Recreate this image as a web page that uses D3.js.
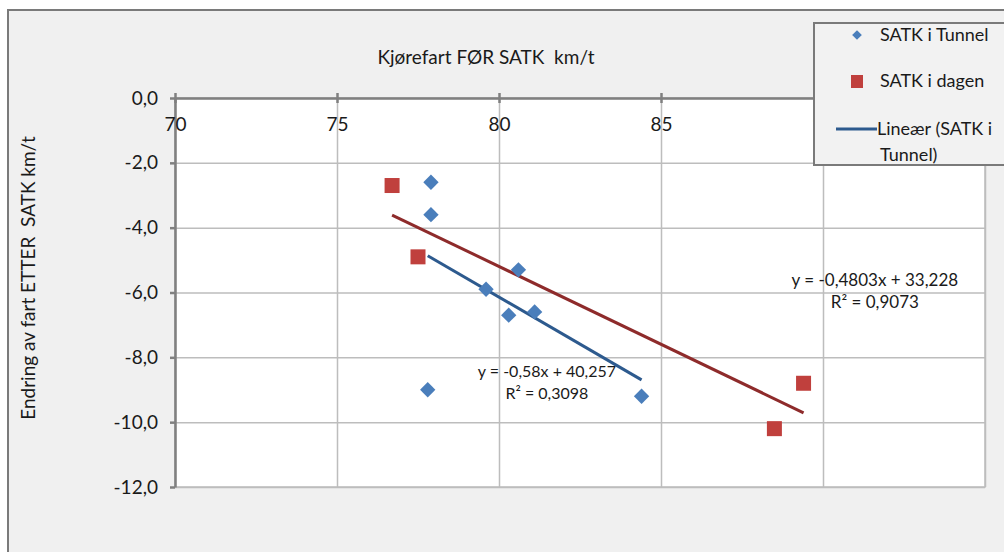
<!DOCTYPE html>
<meta charset="utf-8">
<style type="text/css">
body { margin: 0; background: #fff; }
text { font-family: Lato, "Noto Sans", sans-serif; fill: #1a1a1a; white-space: pre; }
.grid line { stroke: #bdbdbd; stroke-width: 1.5; }
.grid path { display: none; }
.axis path, .axis line { stroke: #808080; stroke-width: 2.5; }
.axis text { font-size: 19px; }
.trend { fill: none; stroke-width: 3; }
</style>
<body>
<div id="chart"></div>
</body>
<script src="https://d3js.org/d3.v7.min.js"></script>
<script>

// data
var tunnelX = [77.9, 77.9, 80.6, 79.6, 80.3, 81.1, 77.8, 84.4];
var tunnelY = [-2.6, -3.6, -5.3, -5.9, -6.7, -6.6, -9.0, -9.2];
var dagenX = [76.7, 77.5, 88.5, 89.4];
var dagenY = [-2.7, -4.9, -10.2, -8.8];

// trend lines: slope, intercept as printed on the chart
var trendSlope = [-0.58, -0.4803];
var trendIntercept = [40.257, 33.228];
var trendText = [["y = -0,58x + 40,257", "R² = 0,3098"], ["y = -0,4803x + 33,228", "R² = 0,9073"]];

var xTicks = [70, 75, 80, 85, 90, 95];
var yTicks = [0, -2, -4, -6, -8, -10, -12];
var legendLabels = ["SATK i Tunnel", "SATK i dagen", "Lineær (SATK i", "Tunnel)"];

var W = 1004, H = 552;
var margin = {top: 98, left: 175}
  , width = 810
  , height = 389;

var svg = d3.select("#chart").append("svg")
    .attr("width", W)
    .attr("height", H);

// chart area
svg.append("rect")
    .attr("x", 8).attr("y", 10)
    .attr("width", W + 20).attr("height", H + 20)
    .attr("fill", "#f0f0f0")
    .attr("stroke", "#7a7a7a")
    .attr("stroke-width", 2);

var g = svg.append("g")
    .attr("transform", "translate(" + margin.left + "," + margin.top + ")");

var xScale = d3.scaleLinear().domain([70, 95]).range([0, width]);
var yScale = d3.scaleLinear().domain([0, -12]).range([0, height]);

g.append("rect")
    .attr("width", width).attr("height", height)
    .attr("fill", "#fff");

// gridlines
g.append("g")
    .attr("class", "grid")
    .call(d3.axisLeft(yScale).tickValues(yTicks).tickSize(-width).tickFormat(""));
g.append("g")
    .attr("class", "grid")
    .attr("transform", "translate(0," + height + ")")
    .call(d3.axisBottom(xScale).tickValues(xTicks).tickSize(height).tickFormat(""))
    .selectAll("line").attr("y1", 0).attr("y2", -height);
g.append("rect")
    .attr("width", width).attr("height", height)
    .attr("fill", "none")
    .attr("stroke", "#bdbdbd")
    .attr("stroke-width", 1.5);

var fmt = function(v) { return v.toFixed(1).replace(".", ","); };

// y axis
g.append("g")
    .attr("class", "axis")
    .call(d3.axisLeft(yScale).tickValues(yTicks).tickSize(5).tickSizeOuter(0).tickPadding(12).tickFormat(fmt));

// x axis sits at y = 0, labels hang below it (95 is hidden under the legend)
var xAxis = g.append("g")
    .attr("class", "axis")
    .call(d3.axisBottom(xScale).tickValues(xTicks).tickSize(5).tickSizeOuter(0).tickPadding(15)
        .tickFormat(function(d) { return d === 95 ? "" : d; }));
xAxis.selectAll(".tick line").attr("y1", -5).attr("y2", 5);

// trend lines
var trendColor = ["#2d5a8e", "#8e2b2b"];
var sets = [[tunnelX, tunnelY], [dagenX, dagenY]];
var line = d3.line()
    .x(function(d) { return xScale(d[0]); })
    .y(function(d) { return yScale(d[1]); });

sets.forEach(function(s, i) {
    var ext = d3.extent(s[0]);
    var pts = ext.map(function(x) { return [x, trendSlope[i] * x + trendIntercept[i]]; });
    g.append("path")
        .datum(pts)
        .attr("class", "trend")
        .attr("stroke", trendColor[i])
        .attr("d", line);
});

// markers
var diamond = d3.symbol().type(d3.symbolDiamond2).size(150);
g.selectAll(".dia")
    .data(tunnelX)
  .enter().append("path")
    .attr("class", "dia")
    .attr("d", diamond)
    .attr("fill", "#4a7ebb")
    .attr("transform", function(d, i) {
        return "translate(" + xScale(d) + "," + yScale(tunnelY[i]) + ")";
    });

g.selectAll(".sq")
    .data(dagenX)
  .enter().append("rect")
    .attr("class", "sq")
    .attr("x", function(d) { return xScale(d) - 7.5; })
    .attr("y", function(d, i) { return yScale(dagenY[i]) - 7.5; })
    .attr("width", 15).attr("height", 15)
    .attr("fill", "#c0403d");

// equation labels
var eqPos = [[81.48, -8.62], [91.6, -5.8]];
var eqSize = ["16px", "17px"];
eqPos.forEach(function(p, i) {
    var t = g.append("text")
        .attr("x", xScale(p[0]))
        .attr("y", yScale(p[1]))
        .attr("text-anchor", "middle")
        .style("font-size", eqSize[i]);
    t.append("tspan").attr("x", xScale(p[0])).text(trendText[i][0]);
    t.append("tspan").attr("x", xScale(p[0])).attr("dy", 22).text(trendText[i][1]);
});

// titles
svg.append("text")
    .attr("x", 486).attr("y", 64)
    .attr("text-anchor", "middle")
    .style("font-size", "19px")
    .text("Kjørefart FØR SATK  km/t");

svg.append("text")
    .attr("transform", "translate(35,278) rotate(-90)")
    .attr("text-anchor", "middle")
    .style("font-size", "19px")
    .text("Endring av fart ETTER  SATK km/t");

// legend
var legend = svg.append("g").attr("transform", "translate(814,23)");
legend.append("rect")
    .attr("width", 220).attr("height", 142)
    .attr("fill", "#f2f2f2")
    .attr("stroke", "#7a7a7a")
    .attr("stroke-width", 2);
legend.append("path")
    .attr("d", d3.symbol().type(d3.symbolDiamond2).size(60))
    .attr("fill", "#4a7ebb")
    .attr("transform", "translate(43,12)");
legend.append("rect")
    .attr("x", 37).attr("y", 52).attr("width", 12).attr("height", 13)
    .attr("fill", "#c0403d");
legend.append("line")
    .attr("x1", 22).attr("x2", 63).attr("y1", 106).attr("y2", 106)
    .attr("stroke", trendColor[0]).attr("stroke-width", 3);
var legY = [18, 64, 112, 138];
var legX = [66, 66, 63, 66];
legend.selectAll(".lt")
    .data(legendLabels)
  .enter().append("text")
    .attr("class", "lt")
    .attr("x", function(d, i) { return legX[i]; })
    .attr("y", function(d, i) { return legY[i]; })
    .style("font-size", "18px")
    .text(function(d) { return d; });

</script>
